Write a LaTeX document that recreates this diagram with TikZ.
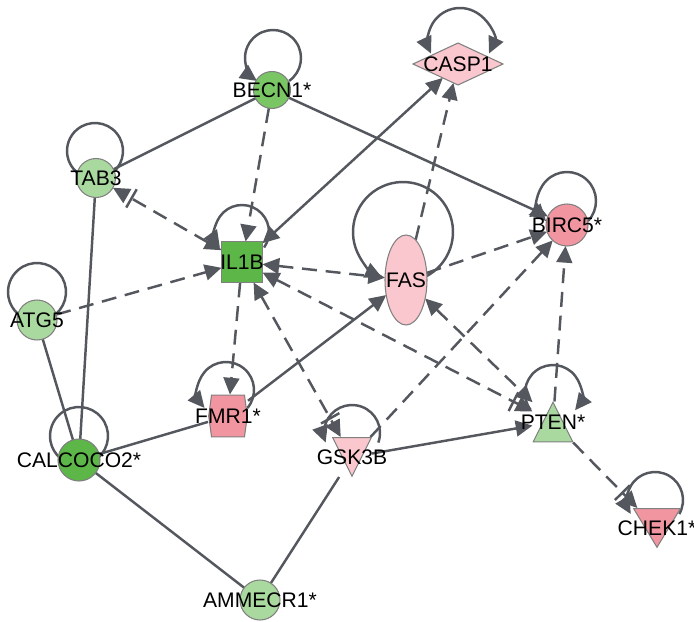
\documentclass[tikz,border=0pt]{standalone}
\usepackage{fontspec}
\setmainfont{Liberation Sans}
\usetikzlibrary{calc}
\usetikzlibrary{arrows.meta}
\usetikzlibrary{shapes.geometric}
\usetikzlibrary{backgrounds}
\definecolor{edgegray}{RGB}{84,88,94}
\definecolor{nodeline}{RGB}{128,128,128}
\definecolor{gdark}{RGB}{92,182,72}
\definecolor{gmid}{RGB}{122,198,100}
\definecolor{glight}{RGB}{170,217,160}
\definecolor{plight}{RGB}{249,199,205}
\definecolor{pmid}{RGB}{241,150,160}

\tikzset{
  Tri/.tip={Triangle[length=9.5pt,width=9pt]},
  BarTri/.tip={Bar[width=12pt,line width=1.4pt,sep=2pt] Triangle[length=9.5pt,width=9pt]},
  gene/.style={inner sep=0pt, outer sep=0pt, line width=0.6pt, draw=nodeline},
  lbl/.style={font=\fontsize{12}{14}\selectfont, text=black, inner sep=0pt},
  other/.style={gene, circle, fill=#1, minimum size=0.8cm},
  cytokine/.style={gene, rectangle, fill=#1, minimum size=0.82cm},
  enzyme/.style={gene, diamond, fill=#1, minimum width=1.8cm, minimum height=0.84cm},
  receptor/.style={gene, ellipse, fill=#1, minimum width=0.84cm, minimum height=1.8cm},
  kinase/.style={gene, draw=none, minimum width=0.8cm, minimum height=0.8cm,
    path picture={\filldraw[fill=#1, draw=nodeline, line width=0.6pt]
      ([xshift=0.4pt,yshift=-0.4pt]path picture bounding box.north west) --
      ([xshift=-0.4pt,yshift=-0.4pt]path picture bounding box.north east) --
      ([yshift=0.4pt]path picture bounding box.south) -- cycle;}},
  phosphatase/.style={gene, draw=none, minimum width=0.82cm, minimum height=0.82cm,
    path picture={\filldraw[fill=#1, draw=nodeline, line width=0.6pt]
      ([xshift=0.4pt,yshift=0.4pt]path picture bounding box.south west) --
      ([xshift=-0.4pt,yshift=0.4pt]path picture bounding box.south east) --
      ([yshift=-0.4pt]path picture bounding box.north) -- cycle;}},
  translation/.style={gene, draw=none, minimum width=0.8cm, minimum height=0.86cm,
    path picture={\filldraw[fill=#1, draw=nodeline, line width=0.6pt]
      ([xshift=2pt,yshift=-0.4pt]path picture bounding box.north west) --
      ([xshift=-2pt,yshift=-0.4pt]path picture bounding box.north east) --
      ([xshift=-0.4pt]path picture bounding box.east) --
      ([xshift=-2pt,yshift=0.4pt]path picture bounding box.south east) --
      ([xshift=2pt,yshift=0.4pt]path picture bounding box.south west) --
      ([xshift=0.4pt]path picture bounding box.west) -- cycle;}},
  rel/.style={draw=edgegray, line width=1.4pt},
  dashrel/.style={rel, dash pattern=on 8.5pt off 5pt},
}

\begin{document}
\begin{tikzpicture}
    \useasboundingbox (0,0) rectangle (13.88,-12.44);

    \node[other=gmid, minimum size=0.74cm, label={[lbl]center:BECN1*}] (becn) at (5.44,-1.80) {};
    \node[enzyme=plight, label={[lbl]center:CASP1}] (casp) at (9.16,-1.28) {};
    \node[other=glight, minimum size=0.78cm, label={[lbl]center:TAB3}] (tab) at (1.92,-3.56) {};
    \node[cytokine=gdark, label={[lbl]center:IL1B}] (il) at (4.84,-5.24) {};
    \node[receptor=plight, label={[lbl]center:FAS}] (fas) at (8.12,-5.60) {};
    \node[other=pmid, minimum size=0.84cm, label={[lbl]center:BIRC5*}] (birc) at (11.34,-4.50) {};
    \node[other=glight, label={[lbl]center:ATG5}] (atg) at (0.74,-6.40) {};
    \node[other=gdark, minimum size=0.84cm, label={[lbl]center:CALCOCO2*}] (calc) at (1.58,-9.20) {};
    \node[translation=pmid, label={[lbl]center:FMR1*}] (fmr) at (4.56,-8.32) {};
    \node[kinase=plight, label={[lbl]center:GSK3B}] (gsk) at (7.04,-9.14) {};
    \node[phosphatase=glight, label={[lbl]center:PTEN*}] (pten) at (11.06,-8.44) {};
    \node[kinase=pmid, minimum width=0.96cm, label={[lbl]center:CHEK1*}] (chek) at (13.14,-10.56) {};
    \node[other=glight, label={[lbl]center:AMMECR1*}] (amm) at (5.20,-12.00) {};

    \begin{scope}[on background layer]
        \draw[rel] (becn) -- (tab);
        \draw[rel, -Tri] (becn) -- (birc);
        \draw[rel, Tri-Tri] (il) -- (casp);
        \draw[rel, -Tri] (fmr) -- (fas);
        \draw[rel] (calc) -- (fmr);
        \draw[rel] (calc) -- (tab);
        \draw[rel] (calc) -- (atg);
        \draw[rel] (calc) -- (amm);
        \draw[rel] (amm) -- (gsk);
        \draw[rel, -Tri] (gsk) -- (pten);

        \draw[dashrel, -Tri] (becn) -- (il);
        \draw[dashrel, -Tri] (fas) -- (casp);
        \draw[dashrel, Tri-BarTri] (il) -- (tab);
        \draw[dashrel, -Tri] (atg) -- (il);
        \draw[dashrel, -Tri] (il) -- (fmr);
        \draw[dashrel, Tri-Tri] (il) -- (fas);
        \draw[dashrel, -Tri] (fas) -- (birc);
        \draw[dashrel, Tri-BarTri] (il) -- (gsk);
        \draw[dashrel, Tri-BarTri] (il) -- (pten);
        \draw[dashrel, Tri-Tri] (fas) -- (pten);
        \draw[dashrel, -Tri] (gsk) -- (birc);
        \draw[dashrel, -Tri] (pten) -- (birc);
        \draw[dashrel, -BarTri] (pten) -- (chek);

        \foreach \n/\dx/\dy/\r in {tab/-0.02/0.54/0.56, atg/0/0.56/0.58, calc/0/0.48/0.58}
            \draw[rel] ($(\n.center)+(\dx,\dy)+(-50:\r)$) arc[start angle=-50, end angle=230, radius=\r];
        \foreach \n/\dx/\dy/\r/\a/\b in {becn/0.02/0.64/0.56/-55/235, il/0/0.60/0.54/-35/215,
            fas/-0.06/0.96/1.0/-65/245, birc/0/0.48/0.58/-44/224, fmr/-0.04/0.52/0.56/-40/220,
            gsk/0/0.48/0.56/-20/200, pten/0/0.58/0.56/217/-38, chek/-0.04/0.56/0.56/-30/210}
            \draw[rel, -Tri] ($(\n.center)+(\dx,\dy)+(\a:\r)$) arc[start angle=\a, end angle=\b, radius=\r];
        \draw[rel, Tri-Tri] ($(casp.center)+(0.04,0.48)+(-25:0.64)$) arc[start angle=-25, end angle=205, radius=0.64];
    \end{scope}
\end{tikzpicture}
\end{document}
